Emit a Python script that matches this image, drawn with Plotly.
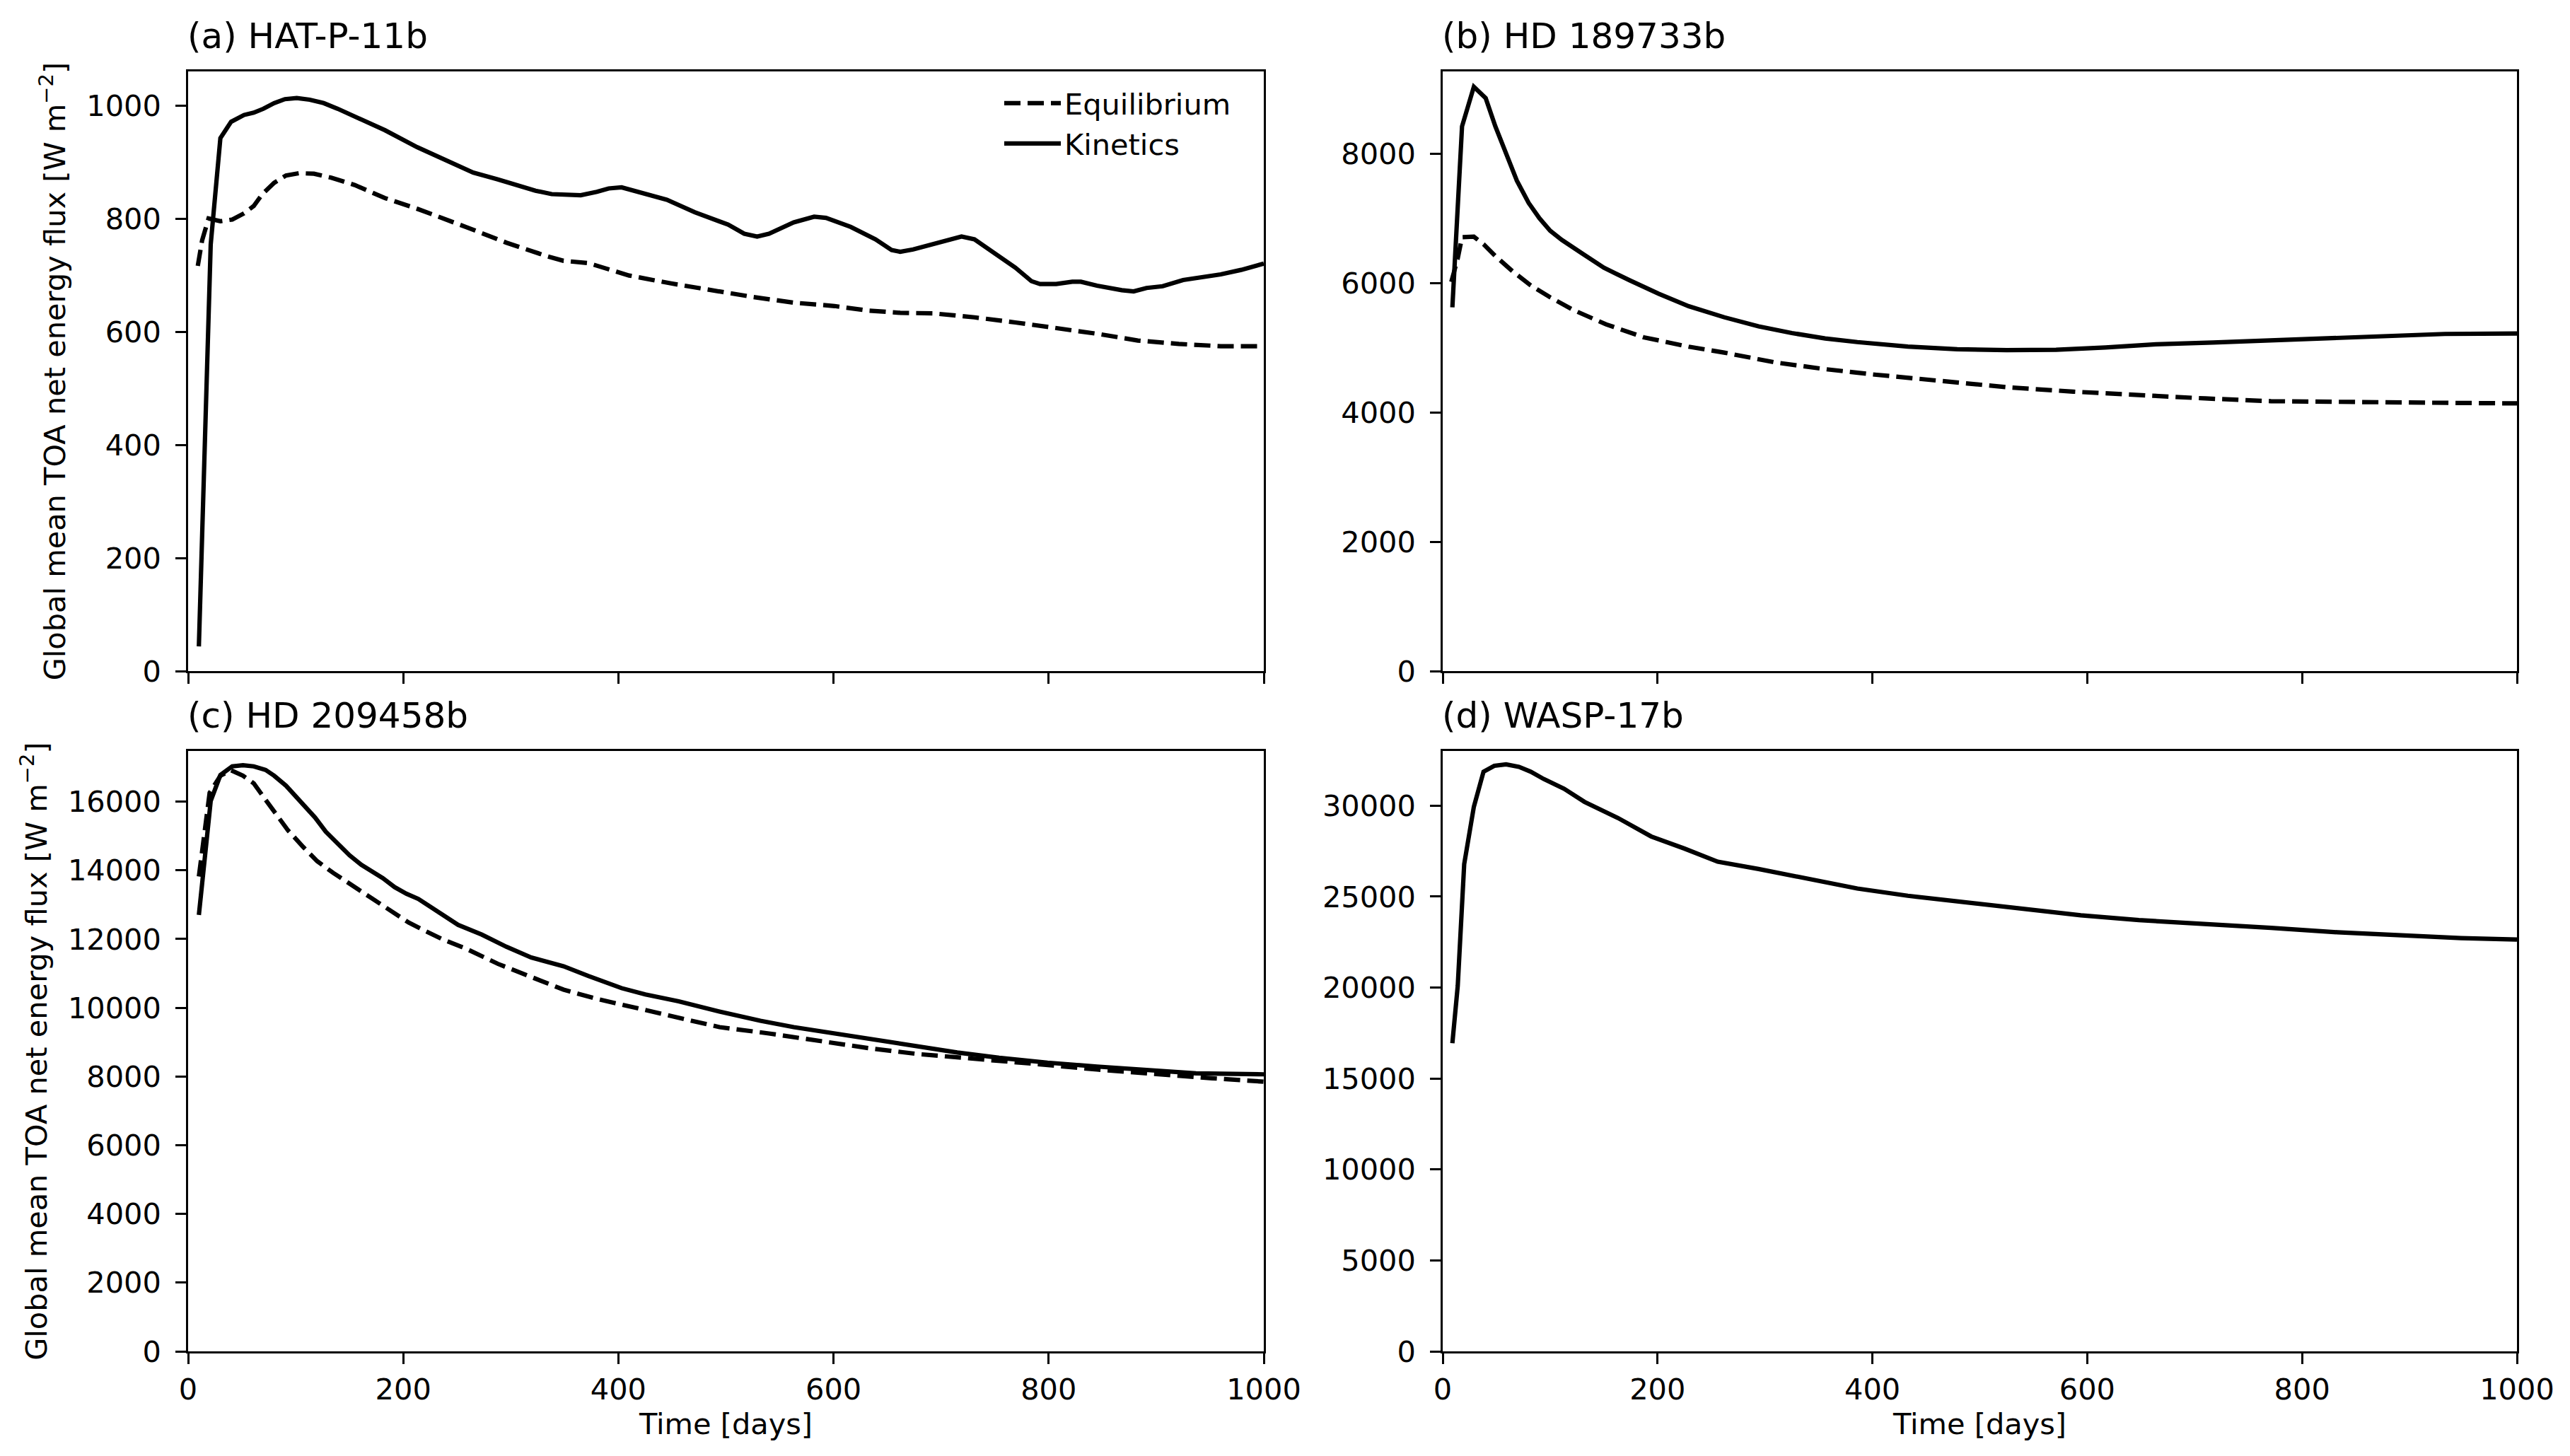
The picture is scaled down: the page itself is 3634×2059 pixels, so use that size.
import plotly.graph_objects as go

# ---------------- data ----------------
# (a) HAT-P-11b
a_kin_t = [10, 21, 30, 40, 52, 61, 70, 80, 90, 101, 113, 126, 139, 158, 183, 213, 250, 265, 288,
           323, 338, 365, 380, 391, 403, 422, 445, 471, 502, 517, 529, 540, 563, 582, 593, 616,
           639, 654, 662, 674, 689, 700, 719, 731, 746, 769, 784, 792, 807, 822, 830, 845, 868,
           879, 891, 906, 925, 944, 960, 979, 1000]
a_kin_f = [44, 755, 943, 972, 984, 988, 995, 1005, 1012, 1014, 1011, 1005, 995, 978, 957, 927, 894,
           882, 870, 850, 844, 842, 848, 854, 856, 846, 834, 812, 790, 774, 769, 774, 794, 804,
           802, 786, 764, 745, 742, 746, 754, 758, 769, 764, 745, 714, 690, 685, 685, 689, 689,
           682, 674, 672, 678, 681, 692, 697, 702, 710, 721]
a_eq_t = [9, 13, 19, 30, 41, 52, 61, 69, 80, 91, 103, 117, 133, 155, 183, 213, 258, 296, 334, 349,
          372, 391, 410, 449, 487, 525, 563, 601, 632, 662, 693, 731, 769, 807, 845, 883, 921,
          960, 1000]
a_eq_f = [717, 762, 801, 796, 799, 810, 823, 844, 864, 877, 881, 880, 873, 860, 837, 818, 786, 758,
          734, 726, 722, 710, 700, 686, 674, 662, 652, 646, 638, 634, 633, 626, 617, 607, 597,
          585, 579, 575, 575]

# (b) HD 189733b
b_kin_t = [9, 18, 29, 40, 49, 58, 69, 80, 90, 100, 111, 130, 150, 174, 201, 229, 262, 294, 325, 356,
           386, 433, 479, 525, 571, 617, 664, 717, 771, 825, 879, 933, 1000]
b_kin_f = [5624, 8421, 9033, 8858, 8421, 8039, 7583, 7238, 7001, 6808, 6665, 6454, 6236, 6042,
           5835, 5642, 5471, 5331, 5227, 5143, 5087, 5018, 4976, 4962, 4969, 5004, 5052, 5080,
           5115, 5157, 5192, 5213, 5220]
b_eq_t = [8, 14, 18, 29, 38, 49, 65, 82, 100, 122, 152, 187, 229, 262, 309, 356, 402, 463, 525,
          587, 648, 710, 771, 833, 895, 941, 1000]
b_eq_f = [6017, 6381, 6709, 6716, 6600, 6418, 6181, 5963, 5780, 5580, 5362, 5162, 5016, 4925,
          4774, 4669, 4585, 4481, 4390, 4321, 4265, 4216, 4174, 4160, 4153, 4147, 4140]

# (c) HD 209458b
c_kin_t = [10, 21, 30, 41, 51, 61, 72, 80, 91, 104, 118, 128, 139, 150, 161, 181, 192, 203, 214,
           231, 251, 273, 296, 319, 349, 372, 403, 425, 456, 494, 532, 563, 601, 639, 677, 715,
           754, 799, 845, 891, 937, 1000]
c_kin_f = [12702, 16018, 16774, 17028, 17062, 17028, 16925, 16754, 16465, 16018, 15538, 15126,
           14782, 14438, 14164, 13773, 13512, 13320, 13169, 12825, 12413, 12130, 11775, 11464,
           11208, 10925, 10571, 10387, 10188, 9891, 9621, 9437, 9253, 9083, 8899, 8700, 8545,
           8403, 8290, 8190, 8091, 8063]
c_eq_t = [10, 16, 20, 30, 40, 51, 61, 72, 82, 93, 107, 120, 135, 153, 170, 188, 205, 218, 236,
          258, 288, 319, 349, 380, 418, 456, 494, 540, 586, 632, 677, 723, 784, 845, 906, 952,
          1000]
c_eq_f = [13821, 15160, 16259, 16754, 16911, 16754, 16534, 16054, 15607, 15160, 14680, 14268,
          13924, 13546, 13203, 12825, 12481, 12275, 12001, 11727, 11279, 10897, 10528, 10259,
          9976, 9692, 9437, 9253, 9040, 8828, 8658, 8545, 8375, 8204, 8049, 7949, 7850]

# (d) WASP-17b
d_kin_t = [9, 14, 20, 29, 38, 48, 59, 71, 82, 94, 113, 132, 163, 194, 225, 256, 294, 340, 386,
           433, 487, 540, 594, 648, 710, 771, 833, 895, 948, 1000]
d_kin_f = [16939, 20097, 26787, 29944, 31871, 32192, 32272, 32138, 31871, 31469, 30934, 30212,
           29329, 28312, 27643, 26920, 26519, 25984, 25449, 25047, 24699, 24325, 23977, 23709,
           23522, 23281, 23040, 22853, 22719, 22639]

panel_titles = ["(a) HAT-P-11b", "(b) HD 189733b", "(c) HD 209458b", "(d) WASP-17b"]
x_ticks = [0, 200, 400, 600, 800, 1000]
y_ticks_a = [0, 200, 400, 600, 800, 1000]
y_ticks_b = [0, 2000, 4000, 6000, 8000]
y_ticks_c = [0, 2000, 4000, 6000, 8000, 10000, 12000, 14000, 16000]
y_ticks_d = [0, 5000, 10000, 15000, 20000, 25000, 30000]
y_label = "Global mean TOA net energy flux [W m<sup>\u22122</sup>]"
x_label = "Time [days]"

# ---------------- styling ----------------
FONT = "DejaVu Sans"
TICK_FS = 41.5
TITLE_FS = 50
LW = 6.2
DASH = "23px,10px"

fig = go.Figure()

def add(t, f, xa, ya, dashed, name, show):
    fig.add_trace(go.Scatter(
        x=t, y=f, xaxis=xa, yaxis=ya, mode="lines", name=name, showlegend=show,
        line=dict(color="black", width=LW, dash=DASH if dashed else "solid"),
    ))

add(a_eq_t, a_eq_f, "x", "y", True, "Equilibrium", True)
add(a_kin_t, a_kin_f, "x", "y", False, "Kinetics", True)
add(b_eq_t, b_eq_f, "x2", "y2", True, "Equilibrium", False)
add(b_kin_t, b_kin_f, "x2", "y2", False, "Kinetics", False)
add(c_eq_t, c_eq_f, "x3", "y3", True, "Equilibrium", False)
add(c_kin_t, c_kin_f, "x3", "y3", False, "Kinetics", False)
add(d_kin_t, d_kin_f, "x4", "y4", False, "Kinetics", False)

W, H = 3634, 2059
ml, mr, mt, mb = 258, 83, 92.5, 156
pw = W - ml - mr
ph = H - mt - mb

def dx(p0, p1):
    return [(p0 - ml) / pw, (p1 - ml) / pw]

def dy(top, bot):
    return [(H - mb - bot) / ph, (H - mb - top) / ph]

xdom_l = dx(258, 1779)
xdom_r = dx(2032, 3551)
ydom_t = dy(92.5, 941)
ydom_b = dy(1054, 1903)

common = dict(
    showline=True, linecolor="black", linewidth=3.3, mirror=True,
    ticks="outside", ticklen=14.6, tickwidth=3.3, tickcolor="black",
    showgrid=False, zeroline=False,
    tickfont=dict(family=FONT, size=TICK_FS, color="black"),
)

def xax(dom, anchor, labels):
    d = dict(common, domain=dom, anchor=anchor, range=[0, 1000], tickvals=x_ticks,
             showticklabels=labels, ticklabelstandoff=0)
    if labels:
        d["title"] = dict(text=x_label, font=dict(family=FONT, size=TICK_FS, color="black"),
                          standoff=2)
    return d

def yax(dom, anchor, rng, ticks, label):
    d = dict(common, domain=dom, anchor=anchor, range=rng, tickvals=ticks, tickformat="d",
             ticklabelstandoff=12)
    if label:
        d["title"] = dict(text=y_label, font=dict(family=FONT, size=TICK_FS, color="black"),
                          standoff=17)
    return d

annotations = []
for i, t in enumerate(panel_titles):
    sfx = "" if i == 0 else str(i + 1)
    annotations.append(dict(
        text=t, xref="x" + sfx + " domain", yref="y" + sfx + " domain", x=0, y=1,
        xanchor="left", yanchor="bottom", showarrow=False, xshift=-3, yshift=19,
        font=dict(family=FONT, size=TITLE_FS, color="black"),
    ))

fig.update_layout(
    width=W, height=H,
    margin=dict(l=ml, r=mr, t=mt, b=mb, autoexpand=False),
    paper_bgcolor="white", plot_bgcolor="white",
    font=dict(family=FONT, size=TICK_FS, color="black"),
    xaxis=xax(xdom_l, "y", False),
    yaxis=yax(ydom_t, "x", [0, 1061], y_ticks_a, True),
    xaxis2=xax(xdom_r, "y2", False),
    yaxis2=yax(ydom_t, "x2", [0, 9270], y_ticks_b, False),
    xaxis3=xax(xdom_l, "y3", True),
    yaxis3=yax(ydom_b, "x3", [0, 17470], y_ticks_c, True),
    xaxis4=xax(xdom_r, "y4", True),
    yaxis4=yax(ydom_b, "x4", [0, 33000], y_ticks_d, False),
    annotations=annotations,
    legend=dict(
        x=(1738 - ml) / pw, y=(H - mb - 104) / ph, xanchor="right", yanchor="top",
        bgcolor="rgba(0,0,0,0)", borderwidth=0,
        font=dict(family=FONT, size=TICK_FS, color="black"),
        itemwidth=80, tracegroupgap=0,
    ),
    showlegend=True,
)

fig.write_html("out.html")
